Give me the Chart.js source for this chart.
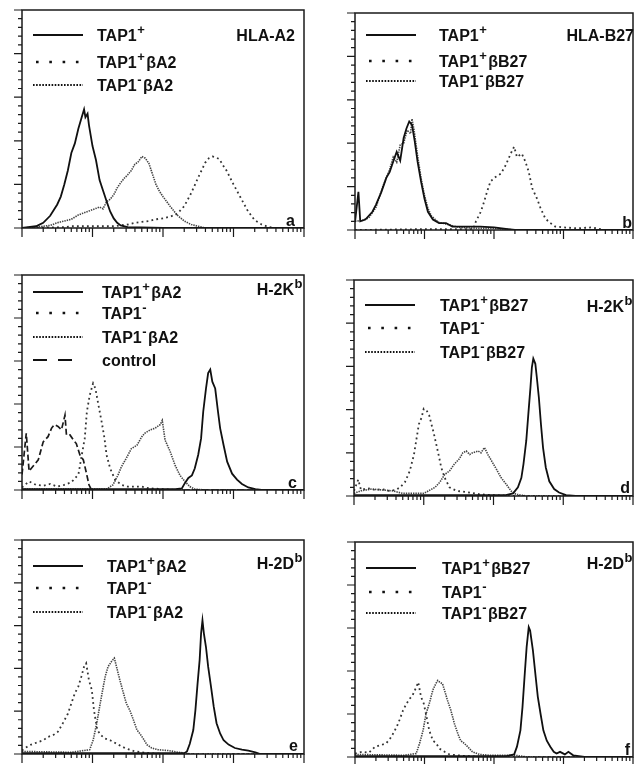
<!DOCTYPE html>
<html>
<head>
<meta charset="utf-8">
<script src="https://cdn.jsdelivr.net/npm/chart.js@4.4.1/dist/chart.umd.min.js"></script>
<style>
  html, body { margin: 0; padding: 0; background: #fff; }
  body { width: 634px; height: 764px; position: relative; overflow: hidden; }
  canvas { position: absolute; }
</style>
</head>
<body>
<canvas id="pa"></canvas>
<canvas id="pb"></canvas>
<canvas id="pc"></canvas>
<canvas id="pd"></canvas>
<canvas id="pe"></canvas>
<canvas id="pf"></canvas>
<script>
// axis ticks (fluorescence, log) and cell counts
const xMajorTicks = [1, 10, 100, 1000, 10000];
const xMinorTicks = [2, 3, 4, 5, 6, 7, 8, 9, 20, 30, 40, 50, 60, 70, 80, 90,
  200, 300, 400, 500, 600, 700, 800, 900, 2000, 3000, 4000, 5000, 6000, 7000, 8000, 9000];
const yMajorTicks = [0, 50, 100, 150, 200, 250];
const yMinorTicks = [10, 20, 30, 40, 60, 70, 80, 90, 110, 120, 130, 140, 160, 170, 180, 190, 210, 220, 230, 240];

// histogram curves: [fluorescence, cells]
// a  HLA-A2
const aTap1Pos = [[1,0],[1.58,2],[2,6],[2.51,14],[3.16,27],[3.55,36],[3.98,50],[4.47,66],[5.01,86],[5.62,97],[6.31,114],[7.08,128],[7.59,136],[7.94,127],[8.51,131],[8.91,118],[10,94],[11.2,78],[12.6,55],[14.1,43],[15.8,31],[17.8,19],[20,11],[22.4,6],[25.1,3],[31.6,1],[100,0],[10000,0]];
const aTap1PosBA2 = [[1,0],[3.98,1],[5.01,2],[20,2],[25.1,3],[31.6,4],[39.8,6],[50.1,7],[63.1,8],[79.4,10],[100,11],[126,13],[158,16],[200,25],[251,40],[316,58],[398,75],[447,80],[501,82],[562,81],[631,79],[708,72],[794,66],[1000,50],[1259,35],[1585,20],[1995,9],[2512,4],[3162,1],[3981,0],[10000,0]];
const aTap1NegBA2 = [[1,0],[1.58,1],[2.51,3],[3.16,6],[3.98,8],[5.01,10],[6.31,15],[7.94,18],[10,21],[12.6,24],[14.1,22],[15.8,30],[17.8,33],[20,38],[22.4,46],[25.1,52],[28.2,57],[31.6,61],[35.5,66],[39.8,73],[44.7,76],[50.1,82],[56.2,80],[63.1,74],[70.8,62],[79.4,50],[89.1,42],[100,36],[126,25],[158,15],[200,8],[251,4],[316,2],[398,0],[10000,0]];
// b  HLA-B27
const bTap1Pos = [[1,9],[1.12,44],[1.19,10],[1.41,12],[1.78,21],[2,29],[2.4,44],[2.82,60],[3.16,67],[3.55,79],[3.98,90],[4.47,80],[5.01,106],[5.5,117],[6.03,125],[6.61,121],[7.24,102],[7.94,79],[8.91,56],[10,36],[11.2,21],[13.2,12],[16.2,8],[20.4,8],[25.1,4],[63.1,4],[100,3],[158,1],[200,0],[10000,0]];
const bTap1PosBB27 = [[1,0],[10,1],[50.1,1],[55,10],[64.6,21],[72.4,33],[79.4,44],[89.1,56],[105,61],[126,65],[148,75],[174,88],[195,96],[214,84],[251,88],[282,79],[316,67],[355,48],[417,36],[468,25],[550,13],[646,8],[759,4],[1000,3],[1585,2],[2512,3],[3981,0],[10000,0]];
const bTap1NegBB27 = [[1,10],[1.26,11],[1.58,14],[2,26],[2.51,50],[3.16,70],[3.55,84],[3.98,78],[4.47,98],[5.01,100],[5.62,115],[6.31,111],[6.61,128],[7.08,115],[7.94,86],[8.91,60],[10,40],[11.2,25],[12.6,16],[15.8,9],[20,7],[25.1,5],[31.6,3],[50,2],[100,2],[200,0],[10000,0]];
// c  H-2Kb (A2 transfectants)
const cTap1PosBA2 = [[1,1],[150,1],[186,2],[204,8],[229,14],[257,17],[282,25],[316,41],[347,60],[372,91],[407,118],[437,136],[468,140],[501,126],[550,118],[603,91],[646,72],[724,52],[813,33],[955,19],[1122,12],[1318,7],[1622,3],[2042,1],[2500,0],[10000,0]];
const cTap1Neg = [[1,3],[1.26,10],[1.58,6],[2,5],[2.51,7],[3.16,4],[3.98,6],[5.01,9],[6.31,18],[6.92,37],[7.76,60],[8.32,91],[9.12,110],[10.2,124],[11,118],[12,101],[13.5,79],[14.8,60],[15.8,41],[17.8,25],[20.9,12],[25.7,6],[31.6,4],[50.1,4],[63.1,2],[100,1],[158,0],[10000,0]];
const cTap1NegBA2 = [[1,1],[15.8,1],[19.5,6],[22.9,17],[25.7,27],[30.2,37],[35.5,48],[42.7,52],[50.1,62],[55,66],[66.1,70],[77.6,72],[91.2,76],[97.7,81],[107,58],[126,45],[148,29],[174,17],[204,10],[240,4],[282,1],[400,0],[10000,0]];
const cControl = [[1,18],[1.15,66],[1.26,22],[1.35,25],[1.7,35],[2,56],[2.34,62],[2.63,72],[2.88,76],[3.24,74],[3.63,70],[4.07,87],[4.27,64],[4.79,64],[5.37,58],[5.89,54],[6.61,41],[7.41,35],[8.13,21],[8.91,6],[9.55,1],[10,0],[10000,0]];
// d  H-2Kb (B27 transfectants)
const dTap1PosBB27 = [[1,1],[150,1],[191,3],[224,10],[251,21],[269,37],[295,64],[316,95],[339,126],[355,149],[372,159],[398,153],[417,138],[447,114],[479,83],[513,56],[562,33],[631,17],[741,8],[871,4],[1096,1],[1500,0],[10000,0]];
const dTap1Neg = [[1,6],[1.15,19],[1.26,7],[1.58,9],[2,7],[2.51,8],[3.16,6],[3.98,7],[4.57,10],[5.37,16],[6.31,29],[7.24,48],[7.94,68],[8.51,83],[9.33,91],[10,101],[11,99],[12,93],[12.9,83],[13.8,74],[15.1,60],[16.6,45],[17.8,33],[20,21],[23.4,10],[29.5,6],[45.7,4],[63.1,2],[100,1],[200,0],[10000,0]];
const dTap1NegBB27 = [[1,3],[1.26,6],[1.78,8],[2.51,7],[3.55,6],[5.01,3],[10,3],[14.5,10],[17,16],[20,25],[23.4,29],[27.5,37],[32.4,43],[36.3,50],[40.7,52],[45.7,48],[50.1,50],[60.3,52],[66.1,50],[74.1,56],[83.2,48],[93.3,41],[110,31],[129,21],[151,14],[178,6],[209,2],[300,0],[10000,0]];
// e  H-2Db (A2 transfectants)
const eTap1PosBA2 = [[1,1],[200,1],[219,3],[240,12],[269,28],[288,51],[309,82],[331,110],[347,141],[363,156],[380,141],[407,125],[437,102],[479,79],[525,55],[575,36],[646,24],[724,16],[851,11],[1047,7],[1318,5],[1622,4],[2042,2],[2399,0],[10000,0]];
const eTap1Neg = [[1,4],[1.1,7],[1.35,11],[1.7,14],[2,16],[2.34,20],[2.75,22],[3.24,26],[3.8,36],[4.47,47],[5.01,59],[5.62,71],[6.31,79],[6.92,90],[7.59,102],[8.13,106],[8.91,86],[9.77,75],[10.5,51],[11.7,28],[13.2,22],[15.1,18],[17.8,16],[21.9,12],[28.8,7],[39.8,3],[63.1,1],[100,0],[10000,0]];
const eTap1NegBA2 = [[1,3],[5,2],[9.12,5],[10.2,16],[11.5,36],[12.6,55],[14.1,77],[15.1,90],[16.6,102],[18.6,108],[20.4,112],[21.9,102],[24.5,86],[27.5,71],[30.2,59],[33.9,51],[38,40],[42.7,28],[46.8,24],[52.5,18],[58.9,11],[69.2,7],[85.1,5],[120,4],[166,2],[250,0],[10000,0]];
// f  H-2Db (B27 transfectants)
const fTap1PosBB27 = [[1,1],[150,1],[195,3],[214,12],[240,31],[257,58],[275,93],[295,128],[316,151],[331,147],[363,124],[398,93],[427,70],[468,50],[513,31],[575,19],[646,12],[724,6],[794,4],[891,6],[1047,3],[1175,6],[1380,2],[2000,0],[10000,0]];
const fTap1Neg = [[1,4],[1.26,6],[1.58,5],[1.95,12],[2.4,14],[2.82,16],[3.31,23],[3.98,35],[4.37,43],[4.9,54],[5.5,62],[6.17,68],[6.76,72],[7.59,81],[8.13,87],[8.91,70],[9.77,62],[10.5,50],[11.7,31],[13.2,19],[14.8,16],[16.2,10],[19.5,6],[22.9,3],[40,1],[100,0],[10000,0]];
const fTap1NegBB27 = [[1,3],[5,2],[7.59,4],[8.51,16],[9.55,31],[10.5,50],[11.7,62],[13.2,78],[14.5,85],[15.5,89],[16.6,87],[18.2,85],[20,74],[21.4,66],[24,54],[26.9,39],[30.2,27],[33.1,19],[37.2,16],[41.7,12],[49,6],[61.7,3],[85.1,2],[200,2],[300,0],[10000,0]];

// line styles: plot stroke and legend key
const STYLE = {
  solid:  { color: '#101010', width: 1.8, dash: [],         key: { width: 2.2, dash: [],          x0: 11, x1: 61 } },
  sparse: { color: '#333333', width: 1.8, dash: [1.8, 3.2], key: { width: 2.6, dash: [2.6, 10.7], x0: 14, x1: 64 } },
  dense:  { color: '#444444', width: 1.6, dash: [1.4, 1.0], key: { width: 2.2, dash: [1.6, 1.5],  x0: 11, x1: 61 } },
  dashed: { color: '#1a1a1a', width: 1.7, dash: [6, 3],     key: { width: 2.2, dash: [14, 11],    x0: 11, x1: 50 } }
};

const PANELS = [
  { id: 'pa', box: [22, 10, 304, 228], title: 'HLA-A2', letter: 'a', rows: [25, 52, 75], textX: 75, titleY: 25, titleInset: 11, letterInset: 9, letterLift: 2,
    series: [['TAP1⁺', aTap1Pos, 'solid'], ['TAP1⁺βA2', aTap1PosBA2, 'sparse'], ['TAP1⁻βA2', aTap1NegBA2, 'dense']] },
  { id: 'pb', box: [355, 13, 633, 230], title: 'HLA-B27', letter: 'b', rows: [22, 48, 68], textX: 84, titleY: 22, titleInset: 1, letterInset: 1, letterLift: 2,
    series: [['TAP1⁺', bTap1Pos, 'solid'], ['TAP1⁺βB27', bTap1PosBB27, 'sparse'], ['TAP1⁻βB27', bTap1NegBB27, 'dense']] },
  { id: 'pc', box: [22, 275, 304, 490], title: 'H-2Kᵇ', letter: 'c', rows: [17, 38, 62, 85], textX: 80, titleY: 14, titleInset: 2, letterInset: 7, letterLift: 2,
    series: [['TAP1⁺βA2', cTap1PosBA2, 'solid'], ['TAP1⁻', cTap1Neg, 'sparse'], ['TAP1⁻βA2', cTap1NegBA2, 'dense'], ['control', cControl, 'dashed']] },
  { id: 'pd', box: [354, 280, 633, 496], title: 'H-2Kᵇ', letter: 'd', rows: [25, 48, 72], textX: 86, titleY: 26, titleInset: 1, letterInset: 3, letterLift: 3,
    series: [['TAP1⁺βB27', dTap1PosBB27, 'solid'], ['TAP1⁻', dTap1Neg, 'sparse'], ['TAP1⁻βB27', dTap1NegBB27, 'dense']] },
  { id: 'pe', box: [22, 540, 304, 754], title: 'H-2Dᵇ', letter: 'e', rows: [26, 48, 72], textX: 85, titleY: 23, titleInset: 2, letterInset: 6, letterLift: 3,
    series: [['TAP1⁺βA2', eTap1PosBA2, 'solid'], ['TAP1⁻', eTap1Neg, 'sparse'], ['TAP1⁻βA2', eTap1NegBA2, 'dense']] },
  { id: 'pf', box: [355, 542, 633, 757], title: 'H-2Dᵇ', letter: 'f', rows: [26, 50, 71], textX: 87, titleY: 21, titleInset: 1, letterInset: 3, letterLift: 2,
    series: [['TAP1⁺βB27', fTap1PosBB27, 'solid'], ['TAP1⁻', fTap1Neg, 'sparse'], ['TAP1⁻βB27', fTap1NegBB27, 'dense']] }
];

const FONT = '"Liberation Sans", Arial, Helvetica, sans-serif';
const SUP = { '⁺': '+', '⁻': '-', 'ᵇ': 'b' };

// split a label into normal / superscript runs
function runs(str) {
  const out = [];
  for (const ch of str) {
    const sup = SUP[ch] !== undefined;
    const t = sup ? SUP[ch] : ch;
    const last = out[out.length - 1];
    if (last && last.sup === sup) last.t += t; else out.push({ t, sup });
  }
  return out;
}
function runFont(r) { return r.sup ? 'bold 13px ' + FONT : 'bold 16px ' + FONT; }
function runWidth(ctx, r) { ctx.font = runFont(r); return ctx.measureText(r.t).width + (r.sup ? 2 : 0); }
function richWidth(ctx, str) {
  return runs(str).reduce((w, r) => w + runWidth(ctx, r), 0);
}
// y is the vertical centre of the capitals
function drawRich(ctx, str, x, y) {
  const base = y + 5.7;
  runs(str).forEach(r => {
    const w = runWidth(ctx, r);
    ctx.fillText(r.t, x + (r.sup ? 0.5 : 0), r.sup ? base - 7 : base);
    x += w;
  });
}

function decoPlugin(p) {
  return {
    id: 'deco',
    afterDatasetsDraw(chart) {
      const { ctx, chartArea: a, scales: { x, y } } = chart;
      ctx.save();
      ctx.strokeStyle = '#1a1a1a';
      ctx.lineWidth = 1.5;
      ctx.setLineDash([]);
      ctx.strokeRect(a.left, a.top, a.right - a.left, a.bottom - a.top);
      ctx.lineWidth = 1.2;
      ctx.beginPath();
      xMajorTicks.forEach(v => { const px = x.getPixelForValue(v); ctx.moveTo(px, a.bottom); ctx.lineTo(px, a.bottom + 9); });
      xMinorTicks.forEach(v => { const px = x.getPixelForValue(v); ctx.moveTo(px, a.bottom); ctx.lineTo(px, a.bottom + 4); });
      yMajorTicks.forEach(v => { const py = y.getPixelForValue(v); ctx.moveTo(a.left, py); ctx.lineTo(a.left - 8, py); });
      yMinorTicks.forEach(v => { const py = y.getPixelForValue(v); ctx.moveTo(a.left, py); ctx.lineTo(a.left - 4, py); });
      ctx.stroke();

      // legend keys and labels
      ctx.fillStyle = '#111';
      chart.data.datasets.forEach((ds, i) => {
        const k = STYLE[ds.kind].key;
        const ry = a.top + p.rows[i];
        ctx.strokeStyle = '#111';
        ctx.lineWidth = k.width;
        ctx.setLineDash(k.dash);
        ctx.beginPath();
        ctx.moveTo(a.left + k.x0, ry);
        ctx.lineTo(a.left + k.x1, ry);
        ctx.stroke();
        ctx.setLineDash([]);
        drawRich(ctx, ds.label, a.left + p.textX, ry);
      });
      // panel title (top right) and letter (bottom right)
      const tw = richWidth(ctx, p.title) - 2;
      drawRich(ctx, p.title, a.right - p.titleInset - tw, a.top + p.titleY);
      ctx.font = 'bold 16px ' + FONT;
      ctx.textAlign = 'right';
      ctx.fillText(p.letter, a.right - p.letterInset, a.bottom - p.letterLift);
      ctx.restore();
    }
  };
}

PANELS.forEach(p => {
  const [l, t, r, b] = p.box;
  const pad = { left: 14, top: 4, right: 4, bottom: 16 };
  const cv = document.getElementById(p.id);
  cv.width = r - l + pad.left + pad.right;
  cv.height = b - t + pad.top + pad.bottom;
  cv.style.left = (l - pad.left) + 'px';
  cv.style.top = (t - pad.top) + 'px';

  new Chart(cv.getContext('2d'), {
    type: 'line',
    data: {
      datasets: p.series.map(([label, pts, kind]) => ({
        label,
        kind,
        data: pts.map(([fx, n]) => ({ x: fx, y: n })),
        borderColor: STYLE[kind].color,
        borderWidth: STYLE[kind].width,
        borderDash: STYLE[kind].dash,
        pointRadius: 0,
        fill: false,
        tension: 0
      }))
    },
    options: {
      responsive: false,
      animation: false,
      devicePixelRatio: 1,
      layout: { padding: pad },
      plugins: { legend: { display: false }, tooltip: { enabled: false } },
      scales: {
        x: { type: 'logarithmic', min: 1, max: 10000, display: false },
        y: { type: 'linear', min: 0, max: 250, display: false }
      }
    },
    plugins: [decoPlugin(p)]
  });
});
</script>
</body>
</html>
